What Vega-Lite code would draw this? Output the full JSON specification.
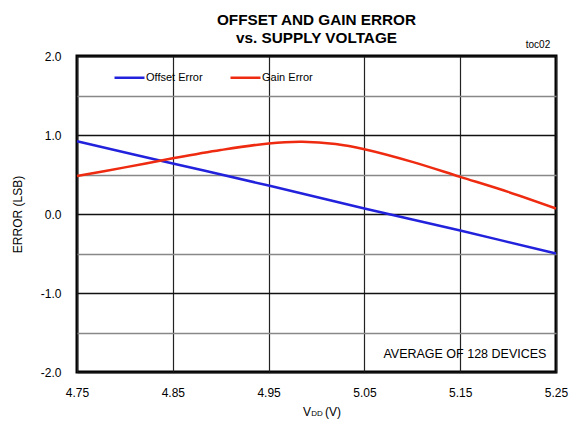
{
  "$schema": "https://vega.github.io/schema/vega-lite/v6.json",
  "autosize": "none",
  "width": 479,
  "height": 316,
  "padding": {"left": 77, "top": 56, "right": 20, "bottom": 54},
  "background": "white",
  "config": {
    "font": "Liberation Sans",
    "view": {"stroke": "black", "strokeWidth": 3},
    "axis": {"labelFont": "Liberation Sans", "titleFont": "Liberation Sans"}
  },
  "title": {
    "text": ["OFFSET  AND GAIN ERROR", "vs. SUPPLY VOLTAGE"],
    "fontSize": 15.3,
    "fontWeight": "bold",
    "font": "Liberation Sans",
    "color": "#000000",
    "anchor": "middle",
    "frame": "group",
    "offset": -6,
    "lineHeight": 18
  },
  "datasets": {
    "curves": [
      {"v": 4.75, "err": 0.92, "series": "Offset Error"},
      {"v": 4.85, "err": 0.64, "series": "Offset Error"},
      {"v": 4.95, "err": 0.36, "series": "Offset Error"},
      {"v": 5.05, "err": 0.07, "series": "Offset Error"},
      {"v": 5.15, "err": -0.21, "series": "Offset Error"},
      {"v": 5.25, "err": -0.5, "series": "Offset Error"},
      {"v": 4.75, "err": 0.48, "series": "Gain Error"},
      {"v": 4.8, "err": 0.59, "series": "Gain Error"},
      {"v": 4.85, "err": 0.705, "series": "Gain Error"},
      {"v": 4.9, "err": 0.81, "series": "Gain Error"},
      {"v": 4.95, "err": 0.893, "series": "Gain Error"},
      {"v": 4.985, "err": 0.913, "series": "Gain Error"},
      {"v": 5.02, "err": 0.885, "series": "Gain Error"},
      {"v": 5.05, "err": 0.82, "series": "Gain Error"},
      {"v": 5.1, "err": 0.66, "series": "Gain Error"},
      {"v": 5.15, "err": 0.47, "series": "Gain Error"},
      {"v": 5.2, "err": 0.28, "series": "Gain Error"},
      {"v": 5.25, "err": 0.07, "series": "Gain Error"}
    ],
    "notes": [
      {"v": 5.24, "err": -1.77, "label": "AVERAGE OF 128 DEVICES", "size": 12.5},
      {"v": 5.244, "err": 2.14, "label": "toc02", "size": 10}
    ],
    "xtitle": [
      {"v": 4.986, "err": -2.5, "label": "V", "size": 12},
      {"v": 4.9945, "err": -2.535, "label": "DD", "size": 8},
      {"v": 5.009, "err": -2.5, "label": "(V)", "size": 12}
    ]
  },
  "resolve": {"axis": {"y": "independent"}},
  "layer": [
    {
      "data": {"name": "curves"},
      "mark": {"type": "line", "strokeWidth": 2.5, "interpolate": "catmull-rom"},
      "encoding": {
        "x": {
          "field": "v", "type": "quantitative",
          "scale": {"domain": [4.75, 5.25], "nice": false, "zero": false},
          "axis": {
            "values": [4.75, 4.85, 4.95, 5.05, 5.15, 5.25],
            "format": ".2f",
            "title": null,
            "grid": true, "gridColor": "#222", "gridWidth": 1.2, "gridOpacity": 1,
            "ticks": false, "domain": false, "labelFlush": false,
            "labelFontSize": 12, "labelColor": "black", "labelPadding": 15
          }
        },
        "y": {
          "field": "err", "type": "quantitative",
          "scale": {"domain": [-2, 2], "nice": false},
          "axis": {
            "orient": "left",
            "values": [-1.5, -0.5, 0.5, 1.5],
            "labels": false, "title": null,
            "grid": true, "gridColor": "#888", "gridWidth": 1.5, "gridOpacity": 1,
            "ticks": false, "domain": false
          }
        },
        "color": {
          "field": "series", "type": "nominal",
          "scale": {"domain": ["Offset Error", "Gain Error"], "range": ["#2222dd", "#ee2a10"]},
          "legend": {
            "title": null, "orient": "none", "legendX": 36, "legendY": 5,
            "direction": "horizontal",
            "symbolType": "stroke", "symbolSize": 900, "symbolStrokeWidth": 2.5,
            "labelFontSize": 11, "labelOffset": 0, "columnPadding": 22,
            "labelColor": "black"
          }
        }
      }
    },
    {
      "data": {"name": "notes"},
      "mark": {"type": "text", "align": "right", "baseline": "middle", "clip": false, "color": "black"},
      "encoding": {
        "x": {"field": "v", "type": "quantitative"},
        "y": {
          "field": "err", "type": "quantitative",
          "axis": {
            "orient": "left",
            "values": [-2, -1, 0, 1, 2],
            "labelExpr": "(datum.value < 0 ? '-' : '') + format(abs(datum.value), '.1f')",
            "title": "ERROR (LSB)",
            "titleFontSize": 12, "titleFontWeight": "normal", "titlePadding": 16, "titleColor": "#000000",
            "grid": true, "gridColor": "#111", "gridWidth": 1.3, "gridOpacity": 1,
            "ticks": false, "domain": false, "labelFlush": false,
            "labelFontSize": 12, "labelColor": "black", "labelPadding": 16
          }
        },
        "text": {"field": "label"},
        "size": {"field": "size", "type": "quantitative", "scale": null}
      }
    },
    {
      "data": {"name": "xtitle"},
      "mark": {"type": "text", "align": "left", "baseline": "middle", "clip": false, "color": "black"},
      "encoding": {
        "x": {"field": "v", "type": "quantitative"},
        "y": {"field": "err", "type": "quantitative", "axis": null},
        "text": {"field": "label"},
        "size": {"field": "size", "type": "quantitative", "scale": null}
      }
    }
  ]
}
